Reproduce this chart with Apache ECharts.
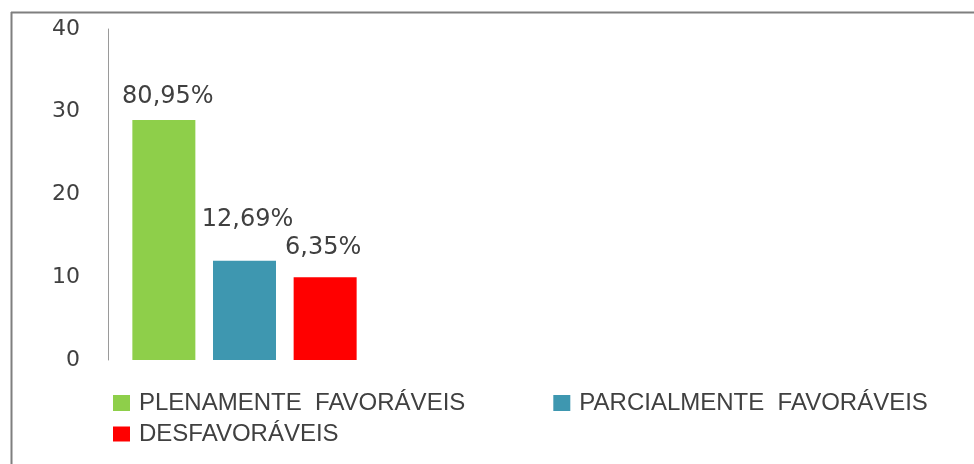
<!DOCTYPE html>
<html>
<head>
<meta charset="utf-8">
<script src="https://cdn.jsdelivr.net/npm/echarts@6/dist/echarts.min.js"></script>
<style>
  html, body { margin: 0; padding: 0; background: #fff; }
  #chart { width: 974px; height: 464px; }
</style>
</head>
<body>
<div id="chart"></div>
<script>
// Opinion counts per group, with the share labels printed above each bar
const categories = [''];
const seriesNames = ['PLENAMENTE  FAVORÁVEIS', 'PARCIALMENTE  FAVORÁVEIS', 'DESFAVORÁVEIS'];
const seriesValues = [29, 12, 10];
const shareLabels = ['80,95%', '12,69%', '6,35%'];
const yTicks = { min: 0, max: 40, interval: 10 };

// Presentation settings
const colors = ['#8ECF4A', '#3E97B0', '#FF0000'];
const labelDistances = [11, 29, 17];
const labelShifts = [4, 3, -2];

const chart = echarts.init(document.getElementById('chart'), null, { renderer: 'canvas' });

const series = seriesNames.map((name, i) => ({
  name: name,
  type: 'bar',
  barWidth: 63,
  barGap: '28%',
  itemStyle: { color: colors[i] },
  label: {
    show: true,
    position: 'top',
    distance: labelDistances[i],
    offset: [labelShifts[i], 0],
    formatter: () => shareLabels[i],
    fontFamily: 'DejaVu Sans',
    fontSize: 24,
    color: '#404040'
  },
  data: [seriesValues[i]]
}));

const legendText = {
  fontFamily: 'Liberation Sans',
  fontSize: 24,
  color: '#404040',
  padding: [0, 0, 0, 4]
};

chart.setOption({
  animation: false,
  backgroundColor: '#fff',
  grid: { left: 108, right: 593, top: 29, bottom: 104, containLabel: false },
  legend: [
    {
      data: seriesNames.slice(0, 2),
      left: 108, top: 386,
      itemWidth: 17, itemHeight: 16, itemGap: 88,
      icon: 'rect',
      textStyle: legendText
    },
    {
      data: seriesNames.slice(2),
      left: 108, top: 417,
      itemWidth: 17, itemHeight: 15,
      icon: 'rect',
      textStyle: legendText
    }
  ],
  xAxis: {
    type: 'category',
    data: categories,
    axisLine: { show: false },
    axisTick: { show: false },
    axisLabel: { show: false }
  },
  yAxis: {
    type: 'value',
    min: yTicks.min,
    max: yTicks.max,
    interval: yTicks.interval,
    axisLine: { show: true, lineStyle: { color: '#9a9a9a', width: 1 } },
    axisTick: { show: false },
    splitLine: { show: false },
    axisLabel: {
      margin: 28,
      fontFamily: 'DejaVu Sans',
      fontSize: 22,
      color: '#404040'
    }
  },
  graphic: [
    {
      type: 'line',
      shape: { x1: 11, y1: 12.5, x2: 974, y2: 12.5 },
      style: { stroke: '#7f7f7f', lineWidth: 2 }
    },
    {
      type: 'line',
      shape: { x1: 11.5, y1: 12, x2: 11.5, y2: 464 },
      style: { stroke: '#7f7f7f', lineWidth: 2 }
    }
  ],
  series: series
});
</script>
</body>
</html>
